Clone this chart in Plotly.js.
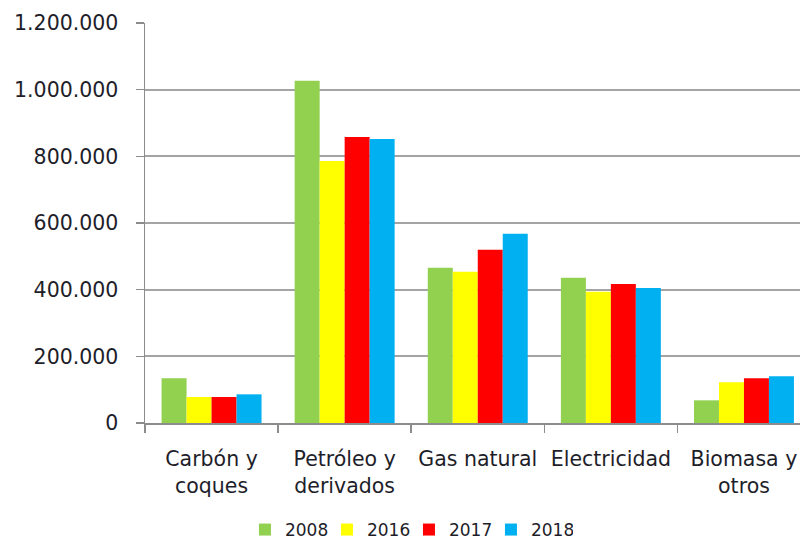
<!DOCTYPE html>
<html>
<head>
<meta charset="utf-8">
<script src="https://cdn.plot.ly/plotly-3.0.1.min.js"></script>
<style>html,body{margin:0;padding:0;background:#fff;}#chart{width:800px;height:540px;}</style>
</head>
<body>
<div id="chart"></div>
<script>
const categories = ["Carbón y<br>coques", "Petróleo y<br>derivados", "Gas natural", "Electricidad", "Biomasa y<br>otros"];
const years = ["2008", "2016", "2017", "2018"];
const v2008 = [134000, 1027000, 466000, 436000, 68000];
const v2016 = [78000, 786000, 454000, 394000, 122000];
const v2017 = [78000, 858000, 520000, 417000, 134000];
const v2018 = [86000, 852000, 568000, 405000, 140000];
const yTicks = [0, 200000, 400000, 600000, 800000, 1000000, 1200000];

const series = [v2008, v2016, v2017, v2018];
const colors = ["#92D050", "#FFFF00", "#FF0000", "#00B0F0"];

const traces = series.map((vals, i) => ({
  type: "bar",
  name: years[i],
  x: categories,
  y: vals,
  marker: { color: colors[i], line: { width: 0 } },
  hoverinfo: "x+y+name"
}));

const font = "DejaVu Sans, Verdana, sans-serif";
const layout = {
  width: 800,
  height: 540,
  margin: { l: 145, r: 0, t: 23, b: 117, pad: 0, autoexpand: false },
  paper_bgcolor: "#fff",
  plot_bgcolor: "#fff",
  separators: ",.",
  barmode: "group",
  bargap: 0.249,
  bargroupgap: 0,
  font: { family: font, size: 20, color: "#1e1e2a" },
  xaxis: {
    type: "category",
    range: [-0.5, 4.421],
    showgrid: false,
    showline: true,
    linecolor: "#8c8c8c",
    linewidth: 1.5,
    ticks: "outside",
    tickson: "boundaries",
    ticklen: 8,
    tickcolor: "#8c8c8c",
    tickwidth: 1.5,
    tickfont: { family: font, size: 20.5, color: "#1e1e2a" },
    ticklabelstandoff: 17,
    automargin: false
  },
  yaxis: {
    range: [0, 1200000],
    tickvals: yTicks,
    tickformat: ",d",
    showgrid: true,
    gridcolor: "#a4a4a4",
    gridwidth: 2,
    zeroline: false,
    showline: true,
    linecolor: "#8c8c8c",
    linewidth: 1.5,
    ticks: "outside",
    ticklen: 8,
    tickcolor: "#8c8c8c",
    tickwidth: 1.5,
    tickfont: { family: font, size: 20.5, color: "#1e1e2a" },
    ticklabelstandoff: 13,
    automargin: false
  },
  showlegend: true,
  legend: {
    orientation: "h",
    x: 0.403,
    xanchor: "center",
    yref: "paper",
    y: -0.2675,
    yanchor: "middle",
    font: { family: font, size: 17, color: "#1e1e2a" },
    itemwidth: 30,
    entrywidth: 37,
    entrywidthmode: "pixels",
    traceorder: "normal"
  }
};

Plotly.newPlot("chart", traces, layout, { displayModeBar: false, staticPlot: true });
</script>
</body>
</html>
